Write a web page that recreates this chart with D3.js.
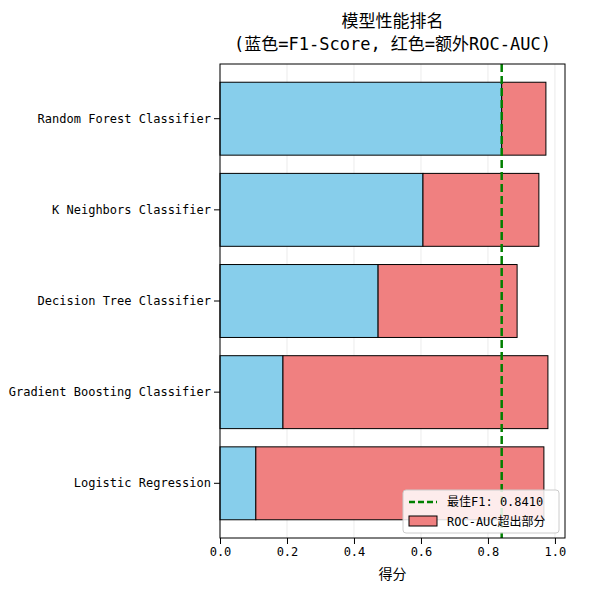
<!DOCTYPE html>
<html><head><meta charset="utf-8">
<script src="https://cdn.jsdelivr.net/npm/d3@7"></script>
<style>body{margin:0;background:#fff}</style></head>
<body><script>
const models = ["Random Forest Classifier","K Neighbors Classifier","Decision Tree Classifier","Gradient Boosting Classifier","Logistic Regression"];
const f1 = [0.841,0.606,0.472,0.188,0.107];
const rocAuc = [0.973,0.952,0.887,0.979,0.967];
const ticks = [0,0.2,0.4,0.6,0.8,1.0];
const best = 0.841;
const font = '"DejaVu Sans Mono","Noto Sans CJK SC",monospace';

const W=612,H=591,m={l:220,r:47,t:64,b:53};
const svg=d3.select("body").append("svg").attr("width",W).attr("height",H).style("font-family",font);
const x=d3.scaleLinear().domain([0,1.03]).range([m.l,W-m.r]);
const y=d3.scaleBand().domain(models).range([m.t,H-m.b]).paddingInner(0.2).paddingOuter(0.2);
const g=svg.append("g");
g.selectAll(".gr").data(ticks).join("line").attr("x1",d=>x(d)).attr("x2",d=>x(d)).attr("y1",m.t).attr("y2",H-m.b).attr("stroke","#e6e6e6").attr("stroke-width",0.8);
g.selectAll(".b").data(models).join("rect").attr("x",x(0)).attr("y",d=>y(d)).attr("height",y.bandwidth()).attr("width",(d,i)=>x(f1[i])-x(0)).attr("fill","skyblue").attr("stroke","#000");
g.selectAll(".r").data(models).join("rect").attr("x",(d,i)=>x(f1[i])).attr("y",d=>y(d)).attr("height",y.bandwidth()).attr("width",(d,i)=>x(rocAuc[i])-x(f1[i])).attr("fill","lightcoral").attr("stroke","#000");
g.append("line").attr("x1",x(best)).attr("x2",x(best)).attr("y1",m.t).attr("y2",H-m.b).attr("stroke","green").attr("stroke-width",2.5).attr("stroke-dasharray","8,4");
svg.append("rect").attr("x",m.l).attr("y",m.t).attr("width",W-m.l-m.r).attr("height",H-m.t-m.b).attr("fill","none").attr("stroke","#000");
const xa=svg.append("g").attr("transform",`translate(0,${H-m.b})`).call(d3.axisBottom(x).tickValues(ticks).tickFormat(d3.format(".1f")).tickSizeOuter(0));
xa.select(".domain").remove();
xa.selectAll("text").style("font-family",font).style("font-size","12px").attr("fill","#000");
const ya=svg.append("g").attr("transform",`translate(${m.l},0)`).call(d3.axisLeft(y).tickSizeOuter(0));
ya.select(".domain").remove();
ya.selectAll("text").style("font-family",font).style("font-size","12px").attr("fill","#000");
svg.append("text").attr("x",x(0.515)).attr("y",H-12).attr("text-anchor","middle").style("font-size","14px").text("得分");
svg.append("text").attr("x",x(0.515)).attr("y",27).attr("text-anchor","middle").style("font-size","17px").text("模型性能排名");
svg.append("text").attr("x",x(0.515)).attr("y",50).attr("text-anchor","middle").style("font-size","17px").text("(蓝色=F1-Score, 红色=额外ROC-AUC)");
const lg=svg.append("g").attr("transform","translate(403,490)");
lg.append("rect").attr("width",156).attr("height",43).attr("rx",3).attr("fill","#fff").attr("fill-opacity",0.85).attr("stroke","#ccc");
lg.append("line").attr("x1",6).attr("x2",34).attr("y1",12).attr("y2",12).attr("stroke","green").attr("stroke-width",2.5).attr("stroke-dasharray","6,3");
lg.append("text").attr("x",44).attr("y",16).style("font-size","12px").text("最佳F1: 0.8410");
lg.append("rect").attr("x",6).attr("y",26).attr("width",28).attr("height",10).attr("fill","lightcoral").attr("stroke","#000");
lg.append("text").attr("x",44).attr("y",36).style("font-size","12px").text("ROC-AUC超出部分");
</script></body></html>
